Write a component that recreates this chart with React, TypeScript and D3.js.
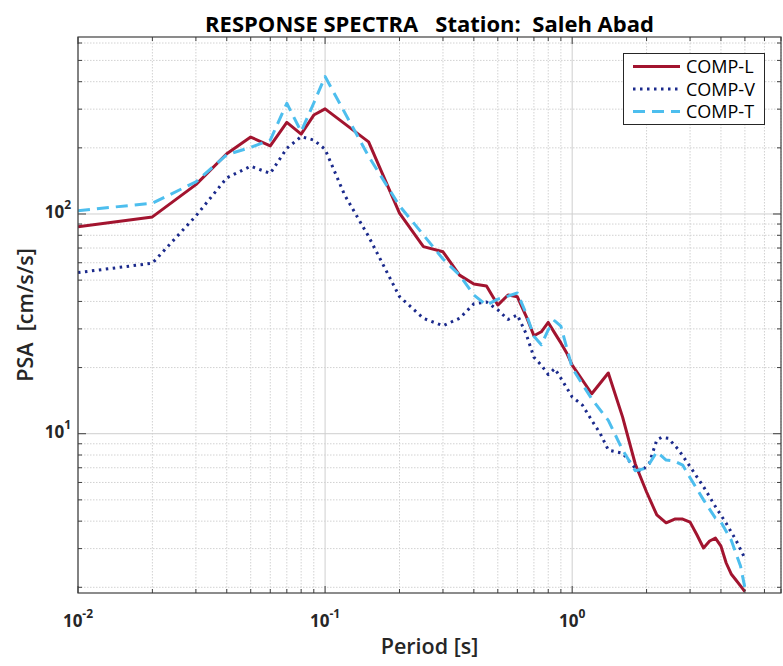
import React from 'react';
import * as d3 from 'd3';

// Response spectra
const periodsL = [0.01, 0.02, 0.03, 0.04, 0.05, 0.06, 0.07, 0.08, 0.09, 0.1, 0.15, 0.2, 0.25, 0.3, 0.35, 0.4, 0.45, 0.5, 0.55, 0.6, 0.65, 0.7, 0.75, 0.8, 0.85, 0.9, 0.95, 1.0, 1.2, 1.4, 1.6, 1.8, 2.0, 2.2, 2.4, 2.6, 2.8, 3.0, 3.2, 3.4, 3.6, 3.8, 4.0, 4.2, 4.4, 4.6, 4.8, 5.0];
const psaL = [87.5, 97, 136, 188, 224, 204, 261, 231, 282, 301, 213, 101, 71, 67.3, 52.7, 48, 47, 38.5, 42.8, 42, 34.4, 27.9, 29.1, 32.1, 28.7, 25.9, 23.3, 20.5, 15.2, 18.9, 11.9, 7.28, 5.43, 4.27, 3.93, 4.09, 4.09, 3.96, 3.46, 3.02, 3.25, 3.35, 3.08, 2.58, 2.3, 2.16, 2.03, 1.91];

const periodsV = [0.01, 0.02, 0.03, 0.04, 0.05, 0.06, 0.07, 0.08, 0.09, 0.1, 0.12, 0.15, 0.2, 0.25, 0.3, 0.35, 0.4, 0.45, 0.5, 0.55, 0.6, 0.65, 0.7, 0.75, 0.8, 0.85, 0.9, 1.0, 1.1, 1.2, 1.3, 1.4, 1.5, 1.6, 1.8, 1.9, 2.05, 2.2, 2.3, 2.45, 2.7, 3.0, 3.4, 3.8, 4.2, 4.6, 5.0];
const psaV = [54.1, 59.7, 98, 146, 165, 153, 199, 225, 217, 197, 122, 79, 42.1, 33.5, 31, 33.5, 39, 39.8, 36.6, 33.1, 34.7, 28.6, 22.3, 20.5, 18.6, 19.8, 17.9, 14.7, 13.5, 11.5, 10.0, 8.43, 8.28, 8.15, 6.96, 6.72, 7.33, 9.37, 9.62, 9.53, 8.43, 7.08, 5.74, 4.66, 3.91, 3.28, 2.71];

const periodsT = [0.01, 0.02, 0.03, 0.04, 0.05, 0.06, 0.07, 0.08, 0.09, 0.1, 0.15, 0.2, 0.25, 0.3, 0.35, 0.4, 0.45, 0.5, 0.55, 0.6, 0.65, 0.7, 0.75, 0.8, 0.85, 0.9, 1.0, 1.2, 1.4, 1.6, 1.8, 2.0, 2.2, 2.4, 2.6, 2.8, 3.0, 3.4, 3.8, 4.0, 4.4, 4.8, 5.0];
const psaT = [103.5, 112, 140, 186, 201, 217, 319, 237, 320, 422, 183, 109, 80.3, 62.4, 52.7, 42.8, 38.5, 41, 42.3, 43.7, 35.4, 27.8, 25.4, 29.7, 32.6, 30.9, 19.9, 14.4, 11.5, 8.43, 6.78, 6.98, 8.26, 7.59, 7.5, 7.2, 6.3, 5.0, 4.13, 3.96, 3.28, 2.5, 1.99];

const seriesNames = ['COMP-L', 'COMP-V', 'COMP-T'];
const xDecades = [-2, -1, 0];
const yDecades = [1, 2];

const W = 783;
const H = 666;
const m = { left: 78, top: 37, right: 2, bottom: 73 };
const FONT = '"Open Sans", "Noto Sans", sans-serif';

const styles = [
  { color: '#A2142F', dash: 'none' },
  { color: '#1B2A8C', dash: '2.5 4.5' },
  { color: '#4DBEEE', dash: '12 7' },
];

const App: React.FC = () => {
  const x = d3.scaleLog().domain([0.01, 7]).range([m.left, W - m.right]);
  const y = d3.scaleLog().domain([1.884, 639]).range([H - m.bottom, m.top]);

  const series = [
    periodsL.map((p, i) => [p, psaL[i]] as [number, number]),
    periodsV.map((p, i) => [p, psaV[i]] as [number, number]),
    periodsT.map((p, i) => [p, psaT[i]] as [number, number]),
  ];

  const line = d3.line<[number, number]>().x(d => x(d[0])).y(d => y(d[1]));

  const isDecade = (v: number) => Math.abs(Math.log10(v) - Math.round(Math.log10(v))) < 1e-9;
  const xt = x.ticks().filter(v => v >= 0.01 && v <= 7);
  const yt = y.ticks().filter(v => v >= 1.884 && v <= 639);

  const x0 = m.left, x1 = W - m.right, y0 = m.top, y1 = H - m.bottom;

  return (
    <svg width={W} height={H} style={{ position: 'absolute', left: 0, top: 0, background: '#fff' }} fontFamily={FONT}>
      <defs>
        <clipPath id="plot">
          <rect x={x0} y={y0} width={x1 - x0} height={y1 - y0} />
        </clipPath>
      </defs>
      <rect x={0} y={0} width={W} height={H} fill="#fff" />

      {/* grid */}
      {xt.map((v, i) => (
        <line key={'gx' + i} x1={x(v)} x2={x(v)} y1={y0} y2={y1}
          stroke={isDecade(v) ? '#cfcfcf' : '#d2d2d2'} strokeWidth={1}
          strokeDasharray={isDecade(v) ? undefined : '1.5 1.5'} />
      ))}
      {yt.map((v, i) => (
        <line key={'gy' + i} x1={x0} x2={x1} y1={y(v)} y2={y(v)}
          stroke={isDecade(v) ? '#cfcfcf' : '#d2d2d2'} strokeWidth={1}
          strokeDasharray={isDecade(v) ? undefined : '1.5 1.5'} />
      ))}

      {/* data */}
      <g clipPath="url(#plot)">
        {series.map((s, i) => (
          <path key={'s' + i} d={line(s) || ''} fill="none" stroke={styles[i].color}
            strokeWidth={3} strokeDasharray={styles[i].dash} strokeLinejoin="round" />
        ))}
      </g>

      {/* ticks, inward on all four sides */}
      {xt.map((v, i) => {
        const len = isDecade(v) ? 7 : 4;
        return (
          <g key={'tx' + i} stroke="#404040" strokeWidth={1}>
            <line x1={x(v)} x2={x(v)} y1={y1} y2={y1 - len} />
            <line x1={x(v)} x2={x(v)} y1={y0} y2={y0 + len} />
          </g>
        );
      })}
      {yt.map((v, i) => {
        const len = isDecade(v) ? 8 : 4;
        return (
          <g key={'ty' + i} stroke="#404040" strokeWidth={1}>
            <line x1={x0} x2={x0 + len} y1={y(v)} y2={y(v)} />
            <line x1={x1} x2={x1 - len} y1={y(v)} y2={y(v)} />
          </g>
        );
      })}

      {/* box */}
      <rect x={x0} y={y0} width={x1 - x0} height={y1 - y0} fill="none" stroke="#404040" strokeWidth={1.2} />

      {/* tick labels */}
      {xDecades.map(e => (
        <text key={'lx' + e} x={x(Math.pow(10, e))} y={627} textAnchor="middle" fill="#262626"
          fontSize={17} fontWeight={700}>
          10<tspan dy={-9} fontSize={12}>{e}</tspan>
        </text>
      ))}
      {yDecades.map(e => (
        <text key={'ly' + e} x={71} y={y(Math.pow(10, e)) + 4} textAnchor="end" fill="#262626"
          fontSize={17} fontWeight={700}>
          10<tspan dy={-9} fontSize={12}>{e}</tspan>
        </text>
      ))}

      {/* titles */}
      <text x={(x0 + x1) / 2} y={32} textAnchor="middle" fontSize={22} fontWeight={700} fill="#000" xmlSpace="preserve">
        RESPONSE SPECTRA   Station:  Saleh Abad
      </text>
      <text x={(x0 + x1) / 2} y={654} textAnchor="middle" fontSize={21.5} fontWeight={600} fill="#262626">
        Period [s]
      </text>
      <text transform={`translate(33,${(y0 + y1) / 2}) rotate(-90)`} textAnchor="middle" fontSize={21.5}
        fontWeight={600} fill="#262626" xmlSpace="preserve">
        PSA  [cm/s/s]
      </text>

      {/* legend */}
      <g>
        <rect x={623.5} y={53.5} width={141} height={71} fill="#fff" stroke="#262626" strokeWidth={1} />
        {seriesNames.map((n, i) => {
          const ly = 66.5 + i * 22.5;
          return (
            <g key={'lg' + i}>
              <line x1={633} x2={680} y1={ly} y2={ly} stroke={styles[i].color} strokeWidth={3}
                strokeDasharray={styles[i].dash} />
              <text x={686} y={ly + 6.5} fontSize={18} fill="#000">{n}</text>
            </g>
          );
        })}
      </g>
    </svg>
  );
};

export default App;
